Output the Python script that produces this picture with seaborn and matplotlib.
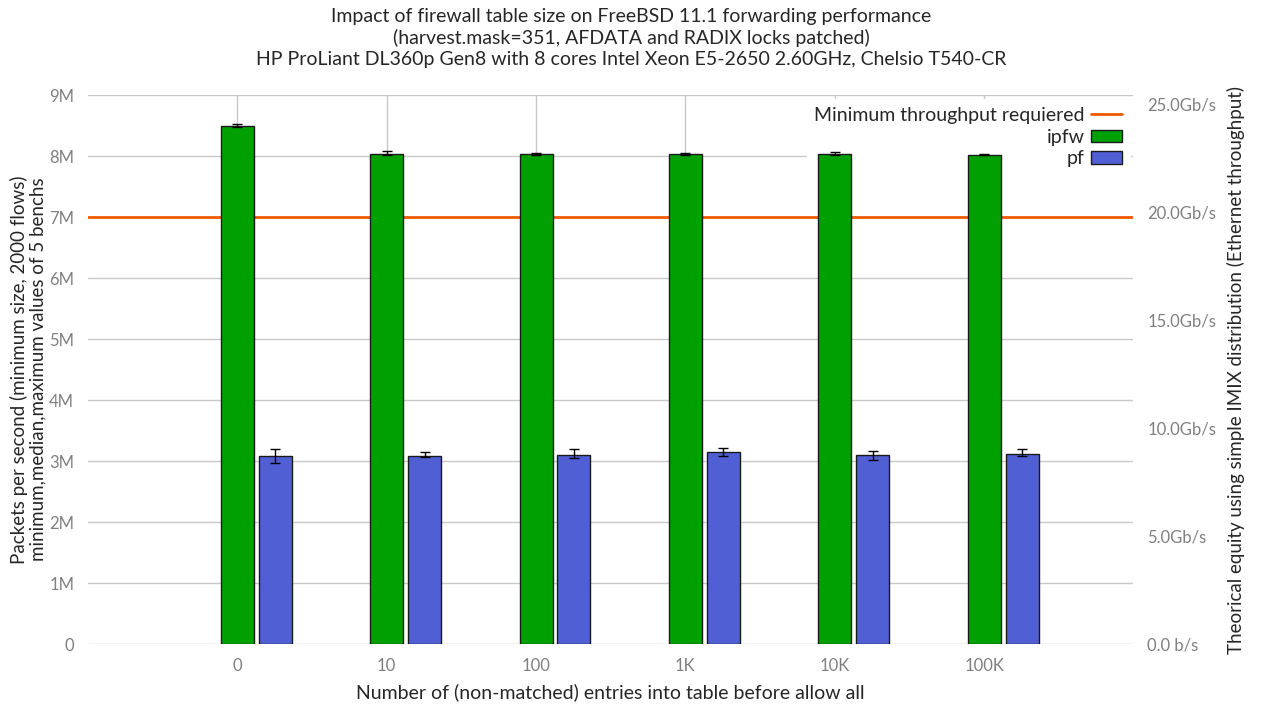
import seaborn as sns
import matplotlib.pyplot as plt
import matplotlib.patches as mpatches
import matplotlib.lines as mlines
import pandas as pd
import numpy as np

entries = ["0", "10", "100", "1K", "10K", "100K"]
ipfw_med = [8.50, 8.04, 8.03, 8.03, 8.03, 8.02]
ipfw_min = [8.47, 8.02, 8.01, 8.02, 8.01, 8.01]
ipfw_max = [8.52, 8.08, 8.05, 8.05, 8.06, 8.03]
pf_med = [3.08, 3.09, 3.10, 3.14, 3.10, 3.12]
pf_min = [2.97, 3.07, 3.05, 3.08, 3.02, 3.08]
pf_max = [3.19, 3.15, 3.20, 3.21, 3.17, 3.20]
min_required = 7.0  # Mpps
gbps_per_mpps = 2.824  # simple IMIX

green = "#00a000"
blue = "#5060d4"
orange = "#f05a00"
grey = "#808080"

df = pd.DataFrame({
    "entries": entries * 2,
    "pps": ipfw_med + pf_med,
    "fw": ["ipfw"] * len(entries) + ["pf"] * len(entries),
})

sns.set_style("white")
plt.rcParams["font.family"] = ["Lato", "DejaVu Sans"]
plt.rcParams["font.size"] = 10.5

fig = plt.figure(figsize=(12.63, 7.04), dpi=100)
ax = fig.add_axes([0.0697, 0.0852, 0.8277, 0.7798])

sns.barplot(data=df, x="entries", y="pps", hue="fw", palette=[green, blue],
            saturation=1, width=0.508, gap=0.13, edgecolor="#1a1a1a",
            linewidth=1.0, errorbar=None, legend=False, ax=ax, zorder=3)

# min / max error bars
lows = [ipfw_min, pf_min]
highs = [ipfw_max, pf_max]
meds = [ipfw_med, pf_med]
bar_containers = list(ax.containers)
for k, cont in enumerate(bar_containers):
    xs = [p.get_x() + p.get_width() / 2 for p in cont.patches]
    med = np.array(meds[k])
    yerr = [med - np.array(lows[k]), np.array(highs[k]) - med]
    ax.errorbar(xs, med, yerr=yerr, fmt="none", ecolor="black",
                elinewidth=1, capsize=3.5, capthick=1, zorder=4)

off = 0.127
ax.axhline(min_required, color=orange, lw=2, zorder=2)
ax.set_xlim(-1 - off, 6 - off)
ax.set_xticks(np.arange(len(entries)) - off)
ax.set_xticklabels(entries)
ax.set_ylim(0, 9)
ax.set_yticks(range(10))
ax.set_yticklabels(["0"] + [f"{i}M" for i in range(1, 10)])
ax.grid(True, color="#c8c8c8", lw=1)
ax.set_axisbelow(True)
for s in ax.spines.values():
    s.set_visible(False)
ax.tick_params(colors=grey, labelsize=12, length=0, pad=10)
ax.set_xlabel("Number of (non-matched) entries into table before allow all",
              fontsize=14, labelpad=7)
ax.set_ylabel("Packets per second (minimum size, 2000 flows)\n"
              "minimum,median,maximum values of 5 benchs", fontsize=13.5,
              labelpad=2, linespacing=1.1)

ax2 = ax.twinx()
ax2.set_ylim(0, 9 * gbps_per_mpps)
ax2.set_yticks(range(0, 26, 5))
ax2.set_yticklabels(["0.0 b/s"] + [f"{v:.1f}Gb/s" for v in range(5, 26, 5)])
for s in ax2.spines.values():
    s.set_visible(False)
ax2.tick_params(colors=grey, labelsize=12, length=0, pad=10)
ax2.set_ylabel("Theorical equity using simple IMIX distribution (Ethernet throughput)",
               fontsize=13.5, labelpad=8)

handles = [
    mlines.Line2D([], [], color=orange, lw=2),
    mpatches.Patch(facecolor=green, edgecolor="#1a1a1a"),
    mpatches.Patch(facecolor=blue, edgecolor="#1a1a1a"),
]
leg = ax.legend(handles, ["Minimum throughput requiered", "ipfw", "pf"],
                loc="upper right", markerfirst=False, frameon=True,
                fancybox=False, fontsize=14, handlelength=1.6,
                handletextpad=0.3, handleheight=0.6,
                borderaxespad=0.2, labelspacing=0.25, borderpad=0.4)
leg.get_frame().set_edgecolor("white")
leg.get_frame().set_alpha(1)
leg.set_zorder(2.5)

fig.suptitle("Impact of firewall table size on FreeBSD 11.1 forwarding performance\n"
             "(harvest.mask=351, AFDATA and RADIX locks patched)\n"
             "HP ProLiant DL360p Gen8 with 8 cores Intel Xeon E5-2650 2.60GHz, Chelsio T540-CR",
             fontsize=14, y=0.988, linespacing=1.25)

fig.savefig("out.png", dpi=100)
